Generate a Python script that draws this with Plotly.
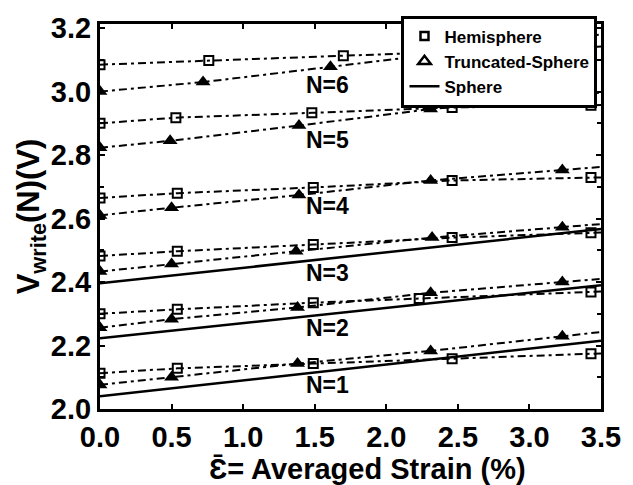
import plotly.graph_objects as go

# ---- data ----
hemi_x = {
    1: [0.0, 0.54, 1.49, 2.46, 3.43],
    2: [0.0, 0.54, 1.49, 2.23, 3.43],
    3: [0.0, 0.54, 1.49, 2.46, 3.43],
    4: [0.0, 0.54, 1.49, 2.46, 3.43],
    5: [0.0, 0.53, 1.48, 2.46, 3.43],
    6: [0.0, 0.76, 1.70],
}
hemi_y = {
    1: [2.113, 2.128, 2.143, 2.158, 2.174],
    2: [2.300, 2.314, 2.335, 2.348, 2.369],
    3: [2.482, 2.497, 2.518, 2.540, 2.555],
    4: [2.665, 2.680, 2.698, 2.720, 2.729],
    5: [2.900, 2.918, 2.933, 2.950, 2.957],
    6: [3.085, 3.098, 3.113],
}
trunc_x = {
    1: [0.0, 0.50, 1.38, 2.31, 3.23],
    2: [0.0, 0.50, 1.38, 2.31, 3.23],
    3: [0.0, 0.50, 1.37, 2.32, 3.23],
    4: [0.0, 0.50, 1.39, 2.31, 3.23],
    5: [0.0, 0.49, 1.39, 2.31, 3.23],
    6: [0.0, 0.72, 1.61],
}
trunc_y = {
    1: [2.076, 2.100, 2.143, 2.183, 2.229],
    2: [2.256, 2.283, 2.320, 2.366, 2.400],
    3: [2.433, 2.457, 2.497, 2.540, 2.573],
    4: [2.610, 2.634, 2.674, 2.720, 2.753],
    5: [2.823, 2.845, 2.893, 2.945, 2.985],
    6: [3.000, 3.030, 3.078],
}
sphere_x = [0.0, 3.5]
sphere_y = {
    1: [2.040, 2.215],
    2: [2.223, 2.390],
    3: [2.396, 2.567],
}
n_labels = ["N=1", "N=2", "N=3", "N=4", "N=5", "N=6"]
n_label_x = 1.59
n_label_y = [2.076, 2.256, 2.427, 2.640, 2.848, 3.022]

X_MAX = 3.5
FONT = "Liberation Sans, Arial, Helvetica, sans-serif"
DASH = "8px,4px,3px,4px"


def extend(xs, ys):
    """Continue the last segment of a series to the right edge of the axis."""
    if xs[-1] >= X_MAX:
        return xs, ys
    slope = (ys[-1] - ys[-2]) / (xs[-1] - xs[-2])
    return xs + [X_MAX], ys + [ys[-1] + slope * (X_MAX - xs[-1])]


fig = go.Figure()

for n in range(1, 7):
    for xs, ys, sym, size, mline in (
        (hemi_x[n], hemi_y[n], "square-open", 9, 2),
        (trunc_x[n], trunc_y[n], "triangle-up", 13, 0),
    ):
        ex, ey = extend(xs, ys)
        fig.add_trace(go.Scatter(x=ex, y=ey, mode="lines", showlegend=False,
                                 line=dict(color="black", width=2, dash=DASH),
                                 hoverinfo="skip"))
        fig.add_trace(go.Scatter(x=xs, y=ys, mode="markers", showlegend=False,
                                 marker=dict(symbol=sym, size=size, color="black",
                                             line=dict(color="black", width=mline))))

for n in range(1, 4):
    fig.add_trace(go.Scatter(x=sphere_x, y=sphere_y[n], mode="lines", showlegend=False,
                             line=dict(color="black", width=2.5)))

# legend entries
fig.add_trace(go.Scatter(x=[None], y=[None], mode="markers", name="<b>Hemisphere</b>",
                         marker=dict(symbol="square-open", size=8, color="black",
                                     line=dict(width=2.5))))
fig.add_trace(go.Scatter(x=[None], y=[None], mode="markers", name="<b>Truncated-Sphere</b>",
                         marker=dict(symbol="triangle-up-open", size=11, color="black",
                                     line=dict(width=2.5))))
fig.add_trace(go.Scatter(x=[None], y=[None], mode="lines", name="<b>Sphere</b>",
                         line=dict(color="black", width=2.5)))

for txt, yy in zip(n_labels, n_label_y):
    fig.add_annotation(x=n_label_x, y=yy, text="<b>%s</b>" % txt, showarrow=False,
                       font=dict(family=FONT, size=23, color="black"))

fig.add_annotation(xref="paper", yref="paper", x=0.533, y=-0.156,
                   text="<b>\u0190\u0304= Averaged Strain (%)</b>", showarrow=False,
                   xanchor="center", yanchor="middle",
                   font=dict(family=FONT, size=29, color="black"))

axis_common = dict(showline=True, linewidth=3, linecolor="black", mirror="ticks",
                   ticks="inside", ticklen=5, tickwidth=2, tickcolor="black",
                   showgrid=False, zeroline=False,
                   tickprefix="<b>", ticksuffix="</b>",
                   tickfont=dict(family=FONT, size=29, color="black"))

fig.update_layout(
    width=633, height=485,
    margin=dict(l=100, r=25, t=12, b=76),
    paper_bgcolor="white", plot_bgcolor="white",
    font=dict(family=FONT, color="black"),
    xaxis=dict(range=[0, X_MAX], dtick=0.5, tickformat=".1f", **axis_common),
    yaxis=dict(range=[2.0, 3.213], tick0=2.0, dtick=0.2, tickformat=".1f",
               minor=dict(dtick=0.1, ticks="inside", ticklen=4, tickwidth=2, tickcolor="black"),
               title=dict(text="<b>V<sub>write</sub>(N)(V)</b>", standoff=2,
                          font=dict(family=FONT, size=31, color="black")),
               **axis_common),
    legend=dict(x=0.993, y=1.022, xanchor="right", yanchor="top",
                bgcolor="white", bordercolor="black", borderwidth=3,
                font=dict(family=FONT, size=17, color="black"),
                itemwidth=30, tracegroupgap=0),
    showlegend=True,
)

fig.write_html("out.html")
